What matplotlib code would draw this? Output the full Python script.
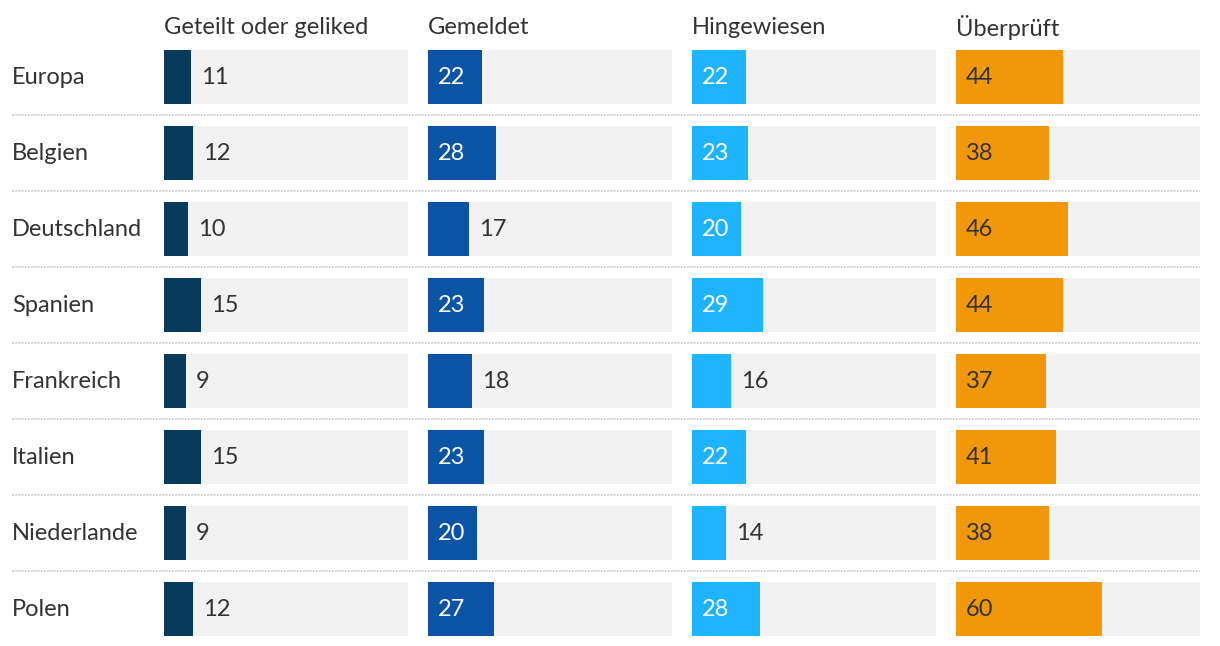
import matplotlib
matplotlib.use("Agg")
import matplotlib.pyplot as plt
from matplotlib.lines import Line2D
from matplotlib.transforms import blended_transform_factory

countries = ["Europa", "Belgien", "Deutschland", "Spanien", "Frankreich", "Italien", "Niederlande", "Polen"]
headers = ["Geteilt oder geliked", "Gemeldet", "Hingewiesen", "Überprüft"]
geteilt = [11, 12, 10, 15, 9, 15, 9, 12]
gemeldet = [22, 28, 17, 23, 18, 23, 20, 27]
hingewiesen = [22, 23, 20, 29, 16, 22, 14, 28]
ueberprueft = [44, 38, 46, 44, 37, 41, 38, 60]
series = [geteilt, gemeldet, hingewiesen, ueberprueft]

colors = ["#073a5c", "#0b54a5", "#1fb4ff", "#f0970a"]
inside_text = ["white", "white", "white", "#333333"]
TEXT = "#333333"
BG = "#f2f2f2"

plt.rcParams["font.family"] = ["Lato", "DejaVu Sans"]
W, H = 1220, 646
DPI = 100
fig = plt.figure(figsize=(W / DPI, H / DPI), dpi=DPI)
FS = 17
PX = 72 / DPI  # points per pixel

n = len(countries)
row_h = 76
top_px = 39
bottom_px = top_px + row_h * n
col_x = [164, 428, 692, 956]
col_w = 244
axes = []
for j, (vals, hdr) in enumerate(zip(series, headers)):
    ax = fig.add_axes([col_x[j] / W, (H - bottom_px) / H, col_w / W, (row_h * n) / H])
    ax.set_xlim(0, 100)
    ax.set_ylim(n - 0.5, -0.5)
    ax.axis("off")
    ypos = list(range(n))
    ax.barh(ypos, [100] * n, height=54 / 76, color=BG, left=0)
    ax.barh(ypos, vals, height=54 / 76, color=colors[j])
    for i, v in enumerate(vals):
        if v >= 20:
            ax.annotate(str(v), (0, i), xytext=(10 * PX, -1 * PX), textcoords="offset points",
                        ha="left", va="center", fontsize=FS, color=inside_text[j])
        else:
            ax.annotate(str(v), (v, i), xytext=(10 * PX, -1 * PX), textcoords="offset points",
                        ha="left", va="center", fontsize=FS, color=TEXT)
    ax.annotate(hdr, (0, 1), xycoords="axes fraction", xytext=(0, 11 * PX),
                textcoords="offset points", ha="left", va="center", fontsize=FS, color=TEXT)
    axes.append(ax)

ax0 = axes[0]
tr = blended_transform_factory(fig.transFigure, ax0.transData)
for i, c in enumerate(countries):
    fig.text(12 / W, i, c, transform=tr, ha="left", va="center", fontsize=FS, color=TEXT)
for i in range(n - 1):
    y = i + 0.5
    fig.add_artist(Line2D([12 / W, 1200 / W], [y, y], transform=tr, color="#d4d4d4",
                          linewidth=2 * PX, linestyle=(0, (1, 0.6))))

fig.savefig("out.png", dpi=DPI, facecolor="white")
